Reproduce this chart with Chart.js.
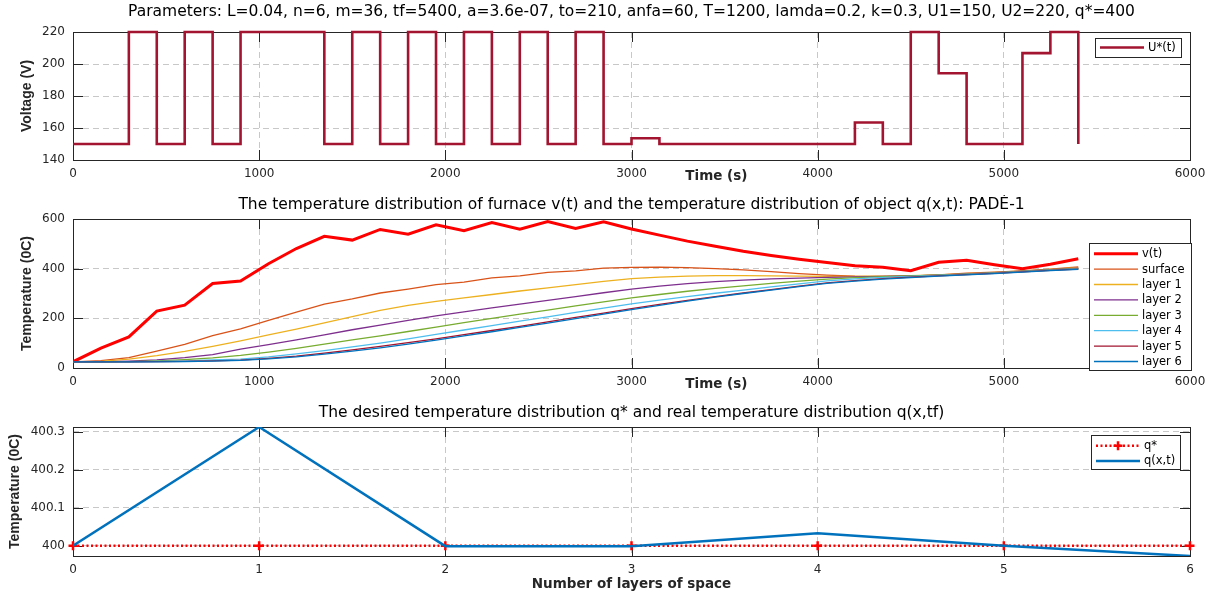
<!DOCTYPE html>
<html>
<head>
<meta charset="utf-8">
<title>Furnace control</title>
<script src="https://cdn.jsdelivr.net/npm/chart.js@4.4.1/dist/chart.umd.min.js"></script>
<style>
  html, body { margin: 0; padding: 0; background: #fff; }
  #wrap { position: relative; width: 1216px; height: 593px; overflow: hidden; }
  canvas { position: absolute; left: 0; }
</style>
</head>
<body>
<div id="wrap">
  <canvas id="c1" width="1216" height="195" style="top:0px"></canvas>
  <canvas id="c2" width="1216" height="195" style="top:195px"></canvas>
  <canvas id="c3" width="1216" height="203" style="top:390px"></canvas>
</div>
<script>
// ---- data ----
const times = [0,150,300,450,600,750,900,1050,1200,1350,1500,1650,1800,1950,2100,2250,2400,2550,2700,
  2850,3000,3150,3300,3450,3600,3750,3900,4050,4200,4350,4500,4650,4800,4950,5100,5250,5400];

// control voltage, each value holds until the next time point
const uStar = [150,150,220,150,220,150,220,220,220,150,220,150,220,150,220,150,220,150,220,
  150,153.6,150,150,150,150,150,150,150,163.4,150,220,194.2,150,150,206.8,220,150];

const vFurnace = [25,80,125,229,253,340,350,420,481,530,515,558,539,577,553,586,559,590,562,
  589,560,535,511,490,470,453,438,425,412,406,392,426,434,416,400,418,440];
const surface = [25,30,42,68,95,130,158,192,225,257,278,302,318,336,346,363,371,385,391,
  402,405,406,404,400,395,388,380,374,370,369,370,375,382,386,391,398,407];
const layer1 = [25,27,36,50,67,87,109,133,157,182,207,232,252,268,282,296,310,323,336,
  349,360,366,370,372,372,371,370,369,369,370,372,375,380,385,391,397,404];
const layer2 = [25,25,28,33,42,54,76,94,113,133,154,173,192,210,226,242,257,272,287,
  303,318,330,340,348,354,359,362,365,367,369,371,374,379,384,390,396,402];
const layer3 = [25,25,26,29,34,41,51,64,79,96,113,129,147,165,183,200,217,233,250,
  266,282,296,309,321,331,341,350,358,364,368,371,374,378,383,389,395,400];
const layer4 = [25,25,25,27,29,33,36,45,57,70,85,100,117,135,153,171,189,206,224,
  241,258,273,287,301,314,327,339,351,359,365,369,373,377,382,388,394,399];
const layer5 = [25,25,25,26,27,29,32,39,48,60,73,87,102,117,134,151,168,186,204,
  221,239,256,272,287,302,316,330,343,352,360,366,371,376,381,387,393,398];
const layer6 = [25,25,25,25,26,28,31,37,45,56,68,81,96,112,129,146,164,181,199,
  217,235,252,269,285,300,314,328,341,350,358,364,370,375,380,386,392,397];

const layers = [0,1,2,3,4,5,6];
const qStar = [400,400,400,400,400,400,400];
const qReal = [400,400.313,399.999,399.999,400.033,400.0,399.973];

const timeTicks = [0,1000,2000,3000,4000,5000,6000];
const voltTicks = [140,160,180,200,220];
const tempTicks = [0,200,400,600];
const qTicks = [400,400.1,400.2,400.3];

// ---- helpers ----
const FONT = "'DejaVu Sans', 'Liberation Sans', sans-serif";
const YFONT = "'Liberation Sans', Arial, sans-serif";
const TITLE_SIZE = 15.5;
Chart.defaults.font.family = FONT;

function pts(xs, ys) { return xs.map((x, i) => ({x: x, y: ys[i]})); }

// axes box with inward tick marks, drawn under the data
const framePlugin = {
  id: 'frame',
  beforeDatasetsDraw(chart) {
    const a = chart.chartArea, ctx = chart.ctx;
    const xs = chart.scales.x, ys = chart.scales.y;
    const len = 10;
    ctx.save();
    ctx.strokeStyle = '#262626';
    ctx.lineWidth = 1;
    ctx.beginPath();
    xs.ticks.forEach(t => {
      const px = Math.round(xs.getPixelForValue(t.value)) + 0.5;
      ctx.moveTo(px, a.bottom); ctx.lineTo(px, a.bottom - len);
      ctx.moveTo(px, a.top); ctx.lineTo(px, a.top + len);
    });
    ys.ticks.forEach(t => {
      const py = Math.round(ys.getPixelForValue(t.value)) + 0.5;
      ctx.moveTo(a.left, py); ctx.lineTo(a.left + len, py);
      ctx.moveTo(a.right, py); ctx.lineTo(a.right - len, py);
    });
    ctx.stroke();
    ctx.strokeRect(Math.round(a.left) + 0.5, Math.round(a.top) + 0.5,
      Math.round(a.right - a.left), Math.round(a.bottom - a.top));
    ctx.restore();
  }
};

// x axis name placed like the original
const xNamePlugin = {
  id: 'xName',
  afterDraw(chart, args, o) {
    const a = chart.chartArea, ctx = chart.ctx;
    ctx.save();
    ctx.font = 'bold 13.5px ' + FONT;
    ctx.fillStyle = '#262626';
    ctx.textAlign = 'center';
    ctx.textBaseline = 'middle';
    ctx.fillText(o.text, a.left + o.frac * (a.right - a.left), a.bottom + o.dy);
    ctx.restore();
  }
};

// legend box inside the axes, top right
const boxLegendPlugin = {
  id: 'boxLegend',
  afterDraw(chart, args, o) {
    const a = chart.chartArea, ctx = chart.ctx;
    const x0 = Math.round(a.right - o.right - o.width), y0 = Math.round(a.top + o.top);
    ctx.save();
    ctx.fillStyle = '#fff';
    ctx.fillRect(x0, y0, o.width, o.height);
    ctx.strokeStyle = '#262626';
    ctx.lineWidth = 1;
    ctx.strokeRect(x0 + 0.5, y0 + 0.5, o.width, o.height);
    chart.data.datasets.forEach((ds, i) => {
      const y = y0 + o.first + i * o.row;
      ctx.strokeStyle = ds.borderColor;
      ctx.lineWidth = ds.borderWidth;
      ctx.setLineDash(ds.borderDash || []);
      ctx.beginPath();
      ctx.moveTo(x0 + 5, y); ctx.lineTo(x0 + 5 + o.len, y);
      ctx.stroke();
      ctx.setLineDash([]);
      if (ds.pointStyle === 'cross') {
        const cx = x0 + 5 + o.len / 2, r = 4.5;
        ctx.beginPath();
        ctx.moveTo(cx - r, y); ctx.lineTo(cx + r, y);
        ctx.moveTo(cx, y - r); ctx.lineTo(cx, y + r);
        ctx.stroke();
      }
      ctx.fillStyle = '#000';
      ctx.font = '11.5px ' + FONT;
      ctx.textAlign = 'left';
      ctx.textBaseline = 'middle';
      ctx.fillText(ds.label, x0 + o.textX, y + 0.5);
    });
    ctx.restore();
  }
};

function makeOptions(p) {
  const half = TITLE_SIZE * 1.2 / 2;
  return {
    responsive: false,
    animation: false,
    devicePixelRatio: 1,
    layout: { padding: { left: 0, right: 26, top: 0, bottom: 0 } },
    plugins: {
      legend: { display: false },
      tooltip: { enabled: false },
      title: {
        display: true, fullSize: false, text: p.title, color: '#000',
        font: { size: TITLE_SIZE, weight: 'normal', family: FONT },
        padding: { top: p.titleCenter - half, bottom: p.areaTop - p.titleCenter - half }
      },
      xName: p.xName,
      boxLegend: p.legend
    },
    scales: {
      x: {
        type: 'linear', min: p.xMin, max: p.xMax,
        afterFit: s => { s.height = p.canvasH - p.areaBottom; },
        afterBuildTicks: s => { s.ticks = p.xTicks.map(v => ({value: v})); },
        grid: { color: '#c8c8c8', lineWidth: 1, drawTicks: false },
        border: { display: false, dash: [6, 4] },
        ticks: { padding: 7, color: '#262626', font: { size: 12 }, maxRotation: 0,
          callback: v => String(v) }
      },
      y: {
        type: 'linear', min: p.yMin, max: p.yMax,
        afterFit: s => { s.width = 73; },
        afterBuildTicks: s => { s.ticks = p.yTicks.map(v => ({value: v})); },
        grid: { color: '#c8c8c8', lineWidth: 1, drawTicks: false },
        border: { display: false, dash: [6, 4] },
        ticks: { padding: 8, color: '#262626', font: { size: 12 },
          callback: v => String(Math.round(v * 10) / 10) },
        title: { display: true, text: p.yName, color: '#262626',
          font: { size: 14, weight: 'bold', family: YFONT },
          padding: { top: p.yNameX - 8.4, bottom: 0 } }
      }
    }
  };
}

function lineDs(label, xs, ys, color, width, extra) {
  return Object.assign({
    label: label, data: pts(xs, ys), borderColor: color, backgroundColor: color,
    borderWidth: width, pointRadius: 0, tension: 0, fill: false
  }, extra || {});
}

// ---- top: control voltage ----
new Chart(document.getElementById('c1'), {
  type: 'line',
  data: { datasets: [
    lineDs('U*(t)', times, uStar, '#A2142F', 2.6, { stepped: 'before', clip: false })
  ] },
  options: makeOptions({
    title: 'Parameters: L=0.04, n=6, m=36, tf=5400, a=3.6e-07, to=210, anfa=60, T=1200, lamda=0.2, k=0.3, U1=150, U2=220, q*=400',
    titleCenter: 12, areaTop: 32, areaBottom: 160, canvasH: 195,
    xMin: 0, xMax: 6000, xTicks: timeTicks,
    yMin: 140, yMax: 220, yTicks: voltTicks,
    yName: 'Voltage (V)', yNameX: 27,
    xName: { text: 'Time (s)', frac: 0.576, dy: 16 },
    legend: { right: 9, top: 6, width: 86, height: 19, first: 9.5, row: 15, len: 44, textX: 53 }
  }),
  plugins: [framePlugin, xNamePlugin, boxLegendPlugin]
});

// ---- middle: furnace and layer temperatures ----
const layerSets = [
  ['surface', surface, '#D95319'], ['layer 1', layer1, '#EDB120'], ['layer 2', layer2, '#7E2F8E'],
  ['layer 3', layer3, '#77AC30'], ['layer 4', layer4, '#4DBEEE'], ['layer 5', layer5, '#A2142F'],
  ['layer 6', layer6, '#0072BD']
];
const midSets = [lineDs('v(t)', times, vFurnace, '#FF0000', 3, { order: 10 })];
layerSets.forEach((l, i) => midSets.push(lineDs(l[0], times, l[1], l[2], 1.3, { order: 9 - i })));

new Chart(document.getElementById('c2'), {
  type: 'line',
  data: { datasets: midSets },
  options: makeOptions({
    title: 'The temperature distribution of furnace v(t) and the temperature distribution of object q(x,t): PADÉ-1',
    titleCenter: 10, areaTop: 24, areaBottom: 173, canvasH: 195,
    xMin: 0, xMax: 6000, xTicks: timeTicks,
    yMin: 0, yMax: 600, yTicks: tempTicks,
    yName: 'Temperature (0C)', yNameX: 27,
    xName: { text: 'Time (s)', frac: 0.576, dy: 16 },
    legend: { right: -1, top: 24, width: 102, height: 127, first: 10.7, row: 15.4, len: 44, textX: 53 }
  }),
  plugins: [framePlugin, xNamePlugin, boxLegendPlugin]
});

// ---- bottom: final distribution over layers ----
new Chart(document.getElementById('c3'), {
  type: 'line',
  data: { datasets: [
    lineDs('q*', layers, qStar, '#FF0000', 2.5, {
      borderDash: [2, 2.5], pointStyle: 'cross', pointRadius: 4.5, pointBorderWidth: 2.5,
      pointBorderColor: '#FF0000', clip: false, order: 2 }),
    lineDs('q(x,t)', layers, qReal, '#0072BD', 2.5, { order: 1 })
  ] },
  options: makeOptions({
    title: 'The desired temperature distribution q* and real temperature distribution q(x,tf)',
    titleCenter: 23, areaTop: 37, areaBottom: 166, canvasH: 203,
    xMin: 0, xMax: 6, xTicks: layers,
    yMin: 399.973, yMax: 400.313, yTicks: qTicks,
    yName: 'Temperature (0C)', yNameX: 15,
    xName: { text: 'Number of layers of space', frac: 0.5, dy: 28 },
    legend: { right: 10, top: 8, width: 89, height: 34, first: 10.7, row: 15.3, len: 44, textX: 53 }
  }),
  plugins: [framePlugin, xNamePlugin, boxLegendPlugin]
});
</script>
</body>
</html>
